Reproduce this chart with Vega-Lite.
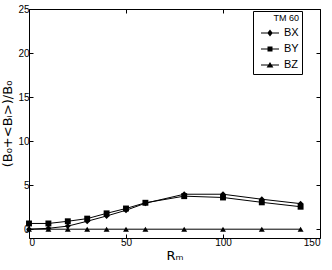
{
  "$schema": "https://vega.github.io/schema/vega-lite/v6.json",
  "width": 291,
  "height": 229,
  "autosize": {"type": "none"},
  "padding": {"left": 29, "top": 9, "right": 12, "bottom": 32},
  "background": "white",
  "config": {
    "font": "Liberation Sans",
    "view": {"stroke": "black", "strokeWidth": 1},
    "legend": {"titleFontWeight": "normal"},
    "axis": {
      "grid": false,
      "domain": false,
      "tickColor": "black",
      "tickSize": -4,
      "labelColor": "black",
      "labelFont": "Liberation Sans",
      "labelFontSize": 10,
      "titleFont": "DejaVu Sans",
      "titleFontSize": 13,
      "titleFontWeight": "normal",
      "titleColor": "black"
    }
  },
  "data": {
    "values": [
      {"R": 0, "s": "BX", "v": 0.0},
      {"R": 10, "s": "BX", "v": 0.1},
      {"R": 20, "s": "BX", "v": 0.35},
      {"R": 30, "s": "BX", "v": 0.9},
      {"R": 40, "s": "BX", "v": 1.5},
      {"R": 50, "s": "BX", "v": 2.15},
      {"R": 60, "s": "BX", "v": 2.95},
      {"R": 80, "s": "BX", "v": 3.97},
      {"R": 100, "s": "BX", "v": 3.97},
      {"R": 120, "s": "BX", "v": 3.4},
      {"R": 140, "s": "BX", "v": 2.9},
      {"R": 0, "s": "BY", "v": 0.65},
      {"R": 10, "s": "BY", "v": 0.65},
      {"R": 20, "s": "BY", "v": 0.9},
      {"R": 30, "s": "BY", "v": 1.2},
      {"R": 40, "s": "BY", "v": 1.8},
      {"R": 50, "s": "BY", "v": 2.35},
      {"R": 60, "s": "BY", "v": 3.0},
      {"R": 80, "s": "BY", "v": 3.75},
      {"R": 100, "s": "BY", "v": 3.6},
      {"R": 120, "s": "BY", "v": 3.05},
      {"R": 140, "s": "BY", "v": 2.55},
      {"R": 0, "s": "BZ", "v": 0.0},
      {"R": 10, "s": "BZ", "v": 0.0},
      {"R": 20, "s": "BZ", "v": 0.0},
      {"R": 30, "s": "BZ", "v": 0.0},
      {"R": 40, "s": "BZ", "v": 0.0},
      {"R": 50, "s": "BZ", "v": 0.0},
      {"R": 60, "s": "BZ", "v": 0.0},
      {"R": 80, "s": "BZ", "v": 0.0},
      {"R": 100, "s": "BZ", "v": 0.0},
      {"R": 120, "s": "BZ", "v": 0.0},
      {"R": 140, "s": "BZ", "v": 0.0}
    ]
  },
  "layer": [
    {
      "mark": {"type": "line", "stroke": "black", "strokeWidth": 1},
      "encoding": {
        "x": {"field": "R", "type": "quantitative", "scale": {"domain": [0, 150], "nice": false},
              "axis": {"orient": "top", "labels": false, "title": null, "values": [0, 50, 100, 150]}},
        "y": {"field": "v", "type": "quantitative", "scale": {"domain": [-1, 25], "nice": false, "zero": false},
              "axis": {"orient": "right", "labels": false, "title": null, "values": [0, 5, 10, 15, 20, 25]}},
        "detail": {"field": "s", "type": "nominal"}
      }
    },
    {
      "mark": {"type": "point", "filled": true, "color": "black", "opacity": 1, "size": 35},
      "encoding": {
        "x": {"field": "R", "type": "quantitative",
              "axis": {"orient": "bottom", "title": "Rₘ", "values": [0, 50, 100, 150], "labelPadding": 3, "titlePadding": 2}},
        "y": {"field": "v", "type": "quantitative",
              "axis": {"orient": "left", "title": "(B₀+<Bᵢ>)/B₀", "values": [0, 5, 10, 15, 20, 25], "labelPadding": 4, "titlePadding": 3}},
        "shape": {"field": "s", "type": "nominal",
                  "scale": {"domain": ["BX", "BY", "BZ"], "range": ["diamond", "square", "triangle-up"]},
                  "legend": null}
      }
    },
    {
      "mark": {"type": "point", "filled": true, "color": "black", "opacity": 0},
      "encoding": {
        "x": {"field": "R", "type": "quantitative", "axis": null},
        "y": {"field": "v", "type": "quantitative", "axis": null},
        "shape": {"field": "s", "type": "nominal",
                  "scale": {"domain": ["BX", "BY", "BZ"],
                            "range": ["M-1.8,-0.1H1.8V0.1H-1.8ZM0,-0.7L0.55,0L0,0.7L-0.55,0Z", "M-1.8,-0.1H1.8V0.1H-1.8ZM-0.5,-0.5H0.5V0.5H-0.5Z", "M-1.8,-0.1H1.8V0.1H-1.8ZM0,-0.62L0.68,0.5H-0.68Z"]},
                  "legend": {
                    "title": "TM 60\u00a0\u00a0\u00a0\u00a0\u00a0",
                    "orient": "none",
                    "legendX": 224,
                    "legendY": 2,
                    "padding": 3,
                    "strokeColor": "black",
                    "fillColor": "white",
                    "titleFont": "Liberation Sans",
                    "titleFontSize": 9,
                    "titleFontWeight": "normal",
                    "titleColor": "black",
                    "titleAnchor": "end",
                    "titlePadding": 4,
                    "labelFont": "Liberation Sans",
                    "labelFontSize": 11,
                    "labelColor": "black",
                    "labelOffset": 8,
                    "symbolOffset": 8,
                    "symbolSize": 100,
                    "rowPadding": 3,
                    "labelExpr": "datum.label + '\u00a0\u00a0\u00a0\u00a0\u00a0\u00a0'",
                    "encode": {
                      "symbols": {
                        "update": {
                          "fill": {"value": "black"},
                          "opacity": {"value": 1},
                          "fillOpacity": {"value": 1},
                          "size": {"value": 100}
                        }
                      }
                    }
                  }}
      }
    }
  ],
  "resolve": {"scale": {"shape": "independent"}, "axis": {"x": "independent", "y": "independent"}}
}
